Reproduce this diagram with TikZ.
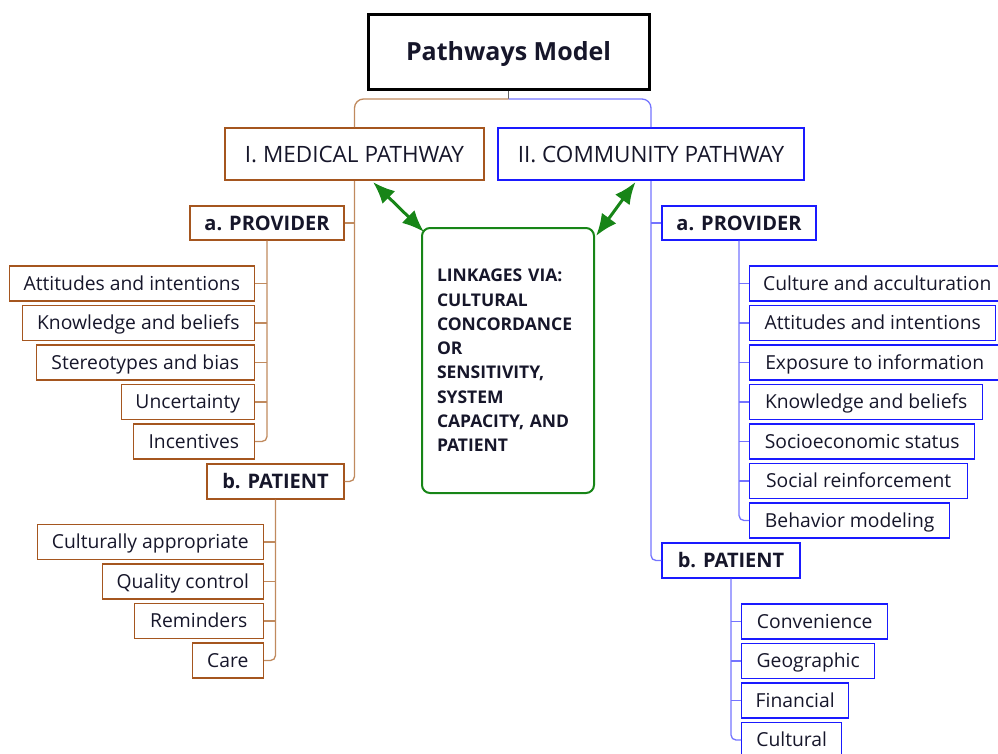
\documentclass[tikz,border=0pt]{standalone}
\usepackage{fontspec}
\setmainfont{Open Sans}
\usetikzlibrary{arrows.meta,calc}

\definecolor{medc}{HTML}{A5561F}
\definecolor{medl}{HTML}{C08A5E}
\definecolor{comc}{HTML}{1A1AFF}
\definecolor{coml}{HTML}{7474FF}
\definecolor{linkc}{HTML}{178517}
\definecolor{txt}{HTML}{16162A}

\tikzset{
  box/.style={rectangle, inner xsep=0pt, inner ysep=0pt, text=txt, minimum height=35pt,
    text height=13.8pt, text depth=0pt, font=\fontsize{19.3}{22}\selectfont},
  medbox/.style={box, draw=medc, line width=1.4pt},
  combox/.style={box, draw=comc, line width=1.4pt},
  headfont/.style={font=\fontsize{20}{24}\selectfont\bfseries, text height=14.3pt},
  medline/.style={draw=medl, line width=1.3pt, rounded corners=5pt},
  comline/.style={draw=coml, line width=1.3pt, rounded corners=5pt},
  linkarrow/.style={draw=linkc, line width=3pt, {Latex[length=22pt,width=18pt]}-{Latex[length=22pt,width=18pt]}}
}

\begin{document}
\begin{tikzpicture}[x=1pt,y=-1pt]
\useasboundingbox (0,0) rectangle (998,753);
\clip (0,0) rectangle (998,753);

% top level
\node[box, draw=black, line width=3pt, minimum width=281pt, minimum height=75pt,
      text height=18pt, font=\fontsize{25}{29}\selectfont\bfseries] (title) at (508.5,51.5) {Pathways Model};
\node[medbox, line width=2pt, minimum width=259pt, minimum height=52pt,
      text height=16pt, font=\fontsize{22.5}{26}\selectfont] (med) at (354.5,154) {I. MEDICAL PATHWAY};
\node[combox, line width=2pt, minimum width=306pt, minimum height=52pt,
      text height=16pt, font=\fontsize{22.5}{26}\selectfont] (com) at (651,154) {II. COMMUNITY PATHWAY};

\coordinate (split) at (508.5,99);
\draw[draw=gray!80!black, line width=1.3pt] (title.south) -- (split);
\draw[medline, rounded corners=9pt] (split) -| (med.north);
\draw[comline, rounded corners=9pt] (split) -| (com.north);

% linkage box
\node[draw=linkc, line width=2pt, rounded corners=8pt, minimum width=172pt, minimum height=265pt,
      text width=142pt, inner xsep=15pt, align=left, text=txt,
      font=\fontsize{17.5}{24.3}\selectfont\bfseries] (link) at (508,360.5)
  {LINKAGES VIA:\\CULTURAL\\CONCORDANCE\\OR\\SENSITIVITY,\\SYSTEM\\CAPACITY, AND\\PATIENT};
\draw[linkarrow] ($(med.south)+(18.5,1)$) -- ($(link.north west)+(3,5)$);
\draw[linkarrow] ($(com.south)+(-15.5,1)$) -- ($(link.north east)+(1,9)$);

% ---------- medical pathway ----------
\node[medbox, headfont, minimum width=154pt, minimum height=34pt] (mprov) at (267,223) {a. PROVIDER};
\node[medbox, headfont, minimum width=137pt] (mpat) at (275.5,481.5) {b. PATIENT};
\draw[medline] (med.south) |- (mpat.east);
\draw[medline] (mprov.east) -- (mprov.east -| med.south);

\node[medbox, minimum width=245pt, anchor=east] (ma1) at (255,283.5) {Attitudes and intentions};
\node[medbox, minimum width=232pt, anchor=east] (ma2) at (255,323) {Knowledge and beliefs};
\node[medbox, minimum width=218pt, anchor=east] (ma3) at (255,362.5) {Stereotypes and bias};
\node[medbox, minimum width=133pt, anchor=east] (ma4) at (255,402) {Uncertainty};
\node[medbox, minimum width=121pt, anchor=east] (ma5) at (255,441.5) {Incentives};
\draw[medline] (mprov.south) |- (ma5.east);
\foreach \n in {ma1,ma2,ma3,ma4} \draw[medline] (\n.east) -- (\n.east -| mprov.south);

\node[medbox, minimum width=226pt, anchor=east] (mb1) at (264,542) {Culturally appropriate};
\node[medbox, minimum width=161pt, anchor=east] (mb2) at (264,581.5) {Quality control};
\node[medbox, minimum width=129pt, anchor=east] (mb3) at (264,621) {Reminders};
\node[medbox, minimum width=71pt, anchor=east] (mb4) at (264,660.5) {Care};
\draw[medline] (mpat.south) |- (mb4.east);
\foreach \n in {mb1,mb2,mb3} \draw[medline] (\n.east) -- (\n.east -| mpat.south);

% ---------- community pathway ----------
\node[combox, headfont, minimum width=154pt, minimum height=34pt] (cprov) at (739,223) {a. PROVIDER};
\node[combox, headfont, minimum width=138pt] (cpat) at (731,560.5) {b. PATIENT};
\draw[comline] (com.south) |- (cpat.west);
\draw[comline] (cprov.west) -- (cprov.west -| com.south);

\node[combox, minimum width=255pt, anchor=west] (ca1) at (749,283.5) {Culture and acculturation};
\node[combox, minimum width=246pt, anchor=west] (ca2) at (749,323) {Attitudes and intentions};
\node[combox, minimum width=250pt, anchor=west] (ca3) at (749,362.5) {Exposure to information};
\node[combox, minimum width=233pt, anchor=west] (ca4) at (749,402) {Knowledge and beliefs};
\node[combox, minimum width=225pt, anchor=west] (ca5) at (749,441.5) {Socioeconomic status};
\node[combox, minimum width=218pt, anchor=west] (ca6) at (749,481) {Social reinforcement};
\node[combox, minimum width=200pt, anchor=west] (ca7) at (749,520.5) {Behavior modeling};
\draw[comline] (cprov.south) |- (ca7.west);
\foreach \n in {ca1,ca2,ca3,ca4,ca5,ca6} \draw[comline] (\n.west) -- (\n.west -| cprov.south);

\node[combox, minimum width=146pt, anchor=west] (cb1) at (741,621.5) {Convenience};
\node[combox, minimum width=133pt, anchor=west] (cb2) at (741,661) {Geographic};
\node[combox, minimum width=107pt, anchor=west] (cb3) at (741,700.5) {Financial};
\node[combox, minimum width=100pt, anchor=west] (cb4) at (741,740) {Cultural};
\draw[comline] (cpat.south) |- (cb4.west);
\foreach \n in {cb1,cb2,cb3} \draw[comline] (\n.west) -- (\n.west -| cpat.south);
\end{tikzpicture}
\end{document}
